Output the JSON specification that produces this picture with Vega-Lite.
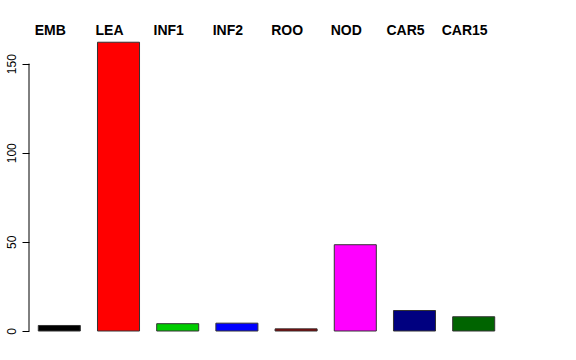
{
  "$schema": "https://vega.github.io/schema/vega-lite/v6.json",
  "autosize": {"type": "none"},
  "width": 475,
  "height": 300,
  "padding": {"left": 29, "top": 31, "right": 72, "bottom": 29},
  "background": "white",
  "config": {"view": {"stroke": null}, "font": "Liberation Sans"},
  "data": {"values": [
    {"tissue": "EMB", "value": 3.1, "color": "#000000"},
    {"tissue": "LEA", "value": 162, "color": "#FF0000"},
    {"tissue": "INF1", "value": 4.1, "color": "#00CD00"},
    {"tissue": "INF2", "value": 4.4, "color": "#0000FF"},
    {"tissue": "ROO", "value": 1.2, "color": "#8B0000"},
    {"tissue": "NOD", "value": 48.4, "color": "#FF00FF"},
    {"tissue": "CAR5", "value": 11.5, "color": "#000080"},
    {"tissue": "CAR15", "value": 8.0, "color": "#006400"}
  ]},
  "layer": [
    {
      "mark": {"type": "bar", "stroke": "#333333", "strokeWidth": 1},
      "encoding": {
        "x": {"field": "tissue", "type": "nominal", "sort": null,
          "scale": {"paddingInner": 0.29, "paddingOuter": 0.157},
          "axis": {"orient": "top", "title": null, "domain": false, "ticks": false, "labelAngle": 0,
            "labelFontWeight": "bold", "labelFontSize": 14, "labelColor": "black",
            "labelOffset": -9, "labelPadding": -3, "labelBaseline": "alphabetic"}},
        "y": {"field": "value", "type": "quantitative",
          "scale": {"domain": [0, 168.3], "nice": false, "zero": true},
          "axis": {"title": null, "values": [0, 50, 100, 150], "domain": false, "grid": false,
            "tickSize": 7, "tickColor": "black", "labelAngle": 270, "labelAlign": "center",
            "labelBaseline": "bottom", "labelPadding": 4, "labelFontSize": 12, "labelColor": "black"}},
        "fill": {"field": "color", "type": "nominal", "scale": null}
      }
    },
    {
      "data": {"values": [{"lo": 0, "hi": 150}]},
      "mark": {"type": "rule", "color": "black", "strokeWidth": 1},
      "encoding": {
        "x": {"value": 0},
        "y": {"field": "lo", "type": "quantitative"},
        "y2": {"field": "hi"}
      }
    }
  ]
}
